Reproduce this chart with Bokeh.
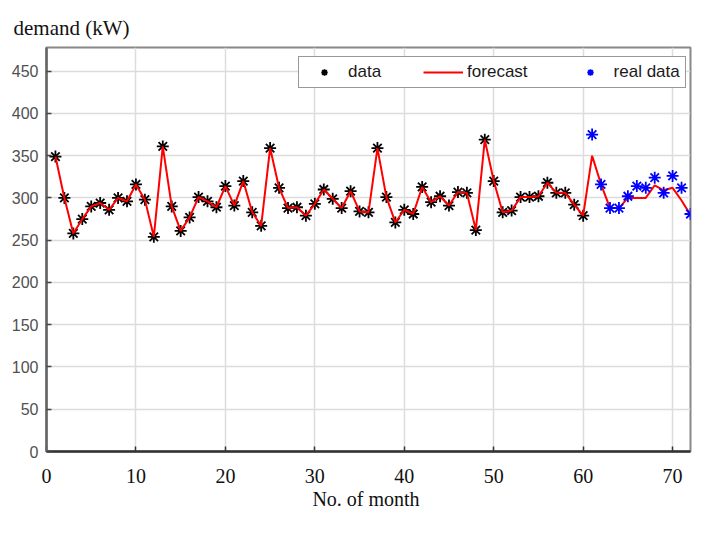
from bokeh.plotting import figure
from bokeh.models import Range1d, FixedTicker, Legend, LegendItem
from bokeh.embed import file_html
from bokeh.resources import INLINE

# ---- data ----
months_data = list(range(1, 61))
demand = [349, 300, 258, 275, 290, 294, 286, 300, 296, 316,
          298, 254, 361, 290, 261, 277, 301, 296, 289, 314,
          291, 320, 283, 267, 359, 312, 288, 289, 279, 293,
          310, 299, 288, 308, 284, 283, 359, 301, 271, 286,
          281, 313, 295, 302, 291, 307, 306, 262, 369, 320,
          283, 285, 301, 301, 302, 318, 306, 306, 292, 279]

months_future = list(range(61, 73))
forecast = [350, 316, 288, 288, 300, 300, 300, 315, 309, 312, 297, 280]
real_data = [375, 316, 288, 288, 302, 314, 312, 324, 306, 326, 312, 281]

x_ticks = [0, 10, 20, 30, 40, 50, 60, 70]
y_ticks = [0, 50, 100, 150, 200, 250, 300, 350, 400, 450]

forecast_x = months_data + months_future
forecast_y = demand + forecast

p = figure(width=692, height=517, output_backend="svg", toolbar_location=None,
           x_range=Range1d(0, 72), y_range=Range1d(0, 478),
           min_border_left=46, min_border_right=2, min_border_top=47,
           min_border_bottom=66, title="demand (kW)")

p.title.text_font = "Liberation Serif"
p.title.text_font_size = "21px"
p.title.text_font_style = "normal"
p.title.text_color = "#111111"
p.title.align = "left"
p.title.offset = -33
p.title.standoff = 16

p.background_fill_color = "white"
p.border_fill_color = "white"
p.outline_line_color = "#888888"
p.outline_line_width = 2

# grid
for g in (p.xgrid, p.ygrid):
    g.grid_line_color = "#dcdcdc"
    g.grid_line_width = 1.5
p.xgrid.ticker = FixedTicker(ticks=x_ticks)
p.ygrid.ticker = FixedTicker(ticks=y_ticks)

# bottom axis
xa = p.xaxis[0]
xa.ticker = FixedTicker(ticks=x_ticks)
xa.axis_label = "No. of  month"
xa.axis_label_text_font = "Liberation Serif"
xa.axis_label_text_font_size = "20px"
xa.axis_label_text_font_style = "normal"
xa.axis_label_text_color = "#111111"
xa.axis_label_standoff = 2
xa.major_label_text_font = "Liberation Serif"
xa.major_label_text_font_size = "20px"
xa.major_label_text_color = "#111111"
xa.major_label_standoff = 17
xa.major_tick_in = 5
xa.major_tick_out = 0
xa.minor_tick_line_color = None
xa.axis_line_color = "#333333"
xa.axis_line_width = 2.5
xa.major_tick_line_color = "#333333"
xa.major_tick_line_width = 1.5

# left axis
ya = p.yaxis[0]
ya.ticker = FixedTicker(ticks=y_ticks)
ya.major_label_text_font = "Liberation Sans"
ya.major_label_text_font_size = "16px"
ya.major_label_text_color = "#505050"
ya.major_label_standoff = 8
ya.major_tick_in = 5
ya.major_tick_out = 0
ya.minor_tick_line_color = None
ya.axis_line_color = "#666666"
ya.axis_line_width = 2.5
ya.major_tick_line_color = "#444444"
ya.major_tick_line_width = 1.5

# glyphs
r_data = p.scatter(months_data, demand, marker="asterisk", size=12,
                   line_color="black", line_width=1.8)
r_fc = p.line(forecast_x, forecast_y, line_color="#ff0000", line_width=2)
r_real = p.scatter(months_future, real_data, marker="asterisk", size=12,
                   line_color="#0000ff", line_width=1.8)

legend = Legend(items=[LegendItem(label="data", renderers=[r_data]),
                       LegendItem(label="forecast", renderers=[r_fc]),
                       LegendItem(label="real data", renderers=[r_real])],
                orientation="horizontal", location=(252, 363))
legend.margin = 0
legend.padding = 5
legend.spacing = 42
legend.glyph_width = 40
legend.glyph_height = 16
legend.label_standoff = 4
legend.label_text_font = "Liberation Sans"
legend.label_text_font_size = "17px"
legend.label_text_color = "#1a1a1a"
legend.label_height = 16
legend.border_line_color = "#333333"
legend.border_line_width = 1.5
legend.background_fill_color = "white"
legend.background_fill_alpha = 1
p.add_layout(legend, "center")

open("out.html", "w").write(file_html(p, INLINE))
